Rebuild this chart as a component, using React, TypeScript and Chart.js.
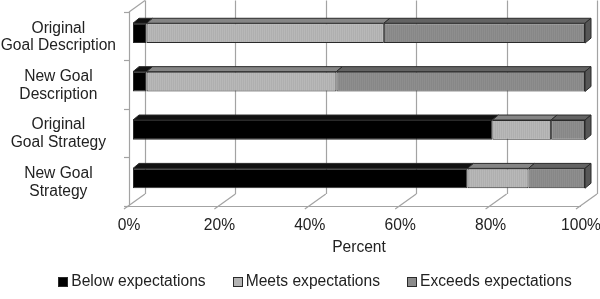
import React, { useEffect, useRef } from 'react';
import { Chart, registerables } from 'chart.js';

Chart.register(...registerables);

// ---------- data ----------
const categories: string[][] = [
  ['Original', 'Goal Description'],
  ['New Goal', 'Description'],
  ['Original', 'Goal Strategy'],
  ['New Goal', 'Strategy'],
];
const seriesNames = ['Below expectations', 'Meets expectations', 'Exceeds expectations'];
const belowValues = [3, 3, 79.5, 74];
const meetsValues = [52.5, 42, 13, 13.5];
const exceedsValues = [44.5, 55, 7.5, 12.5];
const xTickValues = [0, 20, 40, 60, 80, 100];

// ---------- style ----------
const FONT = "Arial, 'Liberation Sans', sans-serif";
const FONT_SIZE = 15.6;
const TEXT = '#222222';
const GRID = '#a3a3a3';
const OUTLINE = '#2a2a2a';
const frontSolid = ['#000000', '#b4b4b4', '#8b8b8b'];
const topColors = ['#111111', '#858585', '#636363'];
const sideColor = '#575757';
const BAR_DX = 6;
const BAR_DY = 5;
const FRONT_DX = -4;
const FRONT_DY = 3;
const WALL_DX = 16;
const WALL_DY = 11.5;

function makeStripes(c1: string, c2: string): CanvasPattern | string {
  const pc = document.createElement('canvas');
  pc.width = 2;
  pc.height = 1;
  const g = pc.getContext('2d');
  if (!g) return c1;
  g.fillStyle = c1;
  g.fillRect(0, 0, 1, 1);
  g.fillStyle = c2;
  g.fillRect(1, 0, 1, 1);
  const p = g.createPattern(pc, 'repeat');
  return p || c1;
}

const wallsPlugin = {
  id: 'walls3d',
  beforeDatasetsDraw(chart: any) {
    const { ctx, chartArea } = chart;
    const xs = chart.scales.x;
    const { top, bottom } = chartArea;
    const r = (v: number) => Math.round(v) + 0.5;
    const line = (x1: number, y1: number, x2: number, y2: number) => {
      ctx.beginPath();
      ctx.moveTo(x1, y1);
      ctx.lineTo(x2, y2);
      ctx.stroke();
    };
    ctx.save();
    ctx.strokeStyle = GRID;
    ctx.lineWidth = 1.2;
    const frontBottom = bottom + FRONT_DY;
    const frontTop = top + FRONT_DY;
    const backBottom = frontBottom - WALL_DY;
    const backTop = frontTop - WALL_DY;
    xTickValues.forEach((v) => {
      const p = xs.getPixelForValue(v);
      const fx = p + FRONT_DX;
      const bx = fx + WALL_DX;
      line(r(bx), backTop, r(bx), backBottom);
      const ext = 5;
      line(bx, backBottom, fx - ext, frontBottom + (ext * WALL_DY) / WALL_DX);
    });
    const x0 = xs.getPixelForValue(0) + FRONT_DX;
    const x100 = xs.getPixelForValue(100) + FRONT_DX;
    line(x0, r(frontBottom), x100, r(frontBottom));
    line(r(x0), frontTop, r(x0), frontBottom);
    line(x0, frontTop, x0 + WALL_DX, backTop);
    const step = (bottom - top) / categories.length;
    for (let i = 0; i <= categories.length; i++) {
      const y = r(top + i * step + FRONT_DY);
      line(x0 - 5, y, x0, y);
    }
    ctx.restore();
  },
  afterDatasetsDraw(chart: any) {
    const { ctx } = chart;
    ctx.save();
    ctx.strokeStyle = OUTLINE;
    ctx.lineWidth = 1;
    const n = chart.data.datasets.length;
    for (let d = 0; d < n; d++) {
      const meta = chart.getDatasetMeta(d);
      meta.data.forEach((el: any) => {
        const { x, y, base, height } = el.getProps(['x', 'y', 'base', 'height'], true);
        const t = y - height / 2;
        const b = y + height / 2;
        ctx.fillStyle = topColors[d];
        ctx.beginPath();
        ctx.moveTo(base, t);
        ctx.lineTo(x, t);
        ctx.lineTo(x + BAR_DX, t - BAR_DY);
        ctx.lineTo(base + BAR_DX, t - BAR_DY);
        ctx.closePath();
        ctx.fill();
        ctx.stroke();
        if (d === n - 1) {
          ctx.fillStyle = sideColor;
          ctx.beginPath();
          ctx.moveTo(x, t);
          ctx.lineTo(x + BAR_DX, t - BAR_DY);
          ctx.lineTo(x + BAR_DX, b - BAR_DY);
          ctx.lineTo(x, b);
          ctx.closePath();
          ctx.fill();
          ctx.stroke();
        }
      });
    }
    ctx.restore();
  },
};

const legendPlugin = {
  id: 'customLegend',
  afterDraw(chart: any) {
    const { ctx } = chart;
    ctx.save();
    ctx.font = `${FONT_SIZE}px ${FONT}`;
    ctx.textBaseline = 'middle';
    ctx.textAlign = 'left';
    const names = chart.data.datasets.map((ds: any) => ds.label as string);
    const box = 10;
    const gap = 3;
    const spacing = 27;
    const widths = names.map((s: string) => ctx.measureText(s).width);
    const total = widths.reduce((a: number, w: number) => a + box + gap + w, 0) + spacing * (names.length - 1);
    let x = 315 - total / 2;
    const cy = 282;
    names.forEach((s: string, i: number) => {
      ctx.fillStyle = frontSolid[i];
      ctx.fillRect(Math.round(x) + 0.5, Math.round(cy - box / 2) + 0.5, box - 1, box - 1);
      ctx.strokeStyle = OUTLINE;
      ctx.lineWidth = 1;
      ctx.strokeRect(Math.round(x) + 0.5, Math.round(cy - box / 2) + 0.5, box - 1, box - 1);
      ctx.fillStyle = TEXT;
      ctx.fillText(s, x + box + gap, cy);
      x += box + gap + widths[i] + spacing;
    });
    ctx.restore();
  },
};

export default function App() {
  const ref = useRef<HTMLCanvasElement | null>(null);
  useEffect(() => {
    document.body.style.margin = '0';
    const canvas = ref.current;
    if (!canvas) return;
    const meetsFill = makeStripes('#b8b8b8', '#afafaf');
    const exceedsFill = makeStripes('#8e8e8e', '#878787');
    const chart = new Chart(canvas, {
      type: 'bar',
      data: {
        labels: categories,
        datasets: [
          { label: seriesNames[0], data: belowValues, backgroundColor: frontSolid[0] },
          { label: seriesNames[1], data: meetsValues, backgroundColor: meetsFill as any },
          { label: seriesNames[2], data: exceedsValues, backgroundColor: exceedsFill as any },
        ].map((ds) => ({
          ...ds,
          borderColor: OUTLINE,
          borderWidth: 1,
          borderSkipped: false,
          categoryPercentage: 1,
          barPercentage: 0.41,
        })),
      },
      options: {
        indexAxis: 'y',
        responsive: false,
        maintainAspectRatio: false,
        animation: false,
        events: [],
        layout: { padding: { top: 9, right: 15, bottom: 42, left: 0 } },
        plugins: {
          legend: { display: false },
          tooltip: { enabled: false },
        },
        scales: {
          x: {
            stacked: true,
            min: 0,
            max: 100,
            afterBuildTicks: (scale: any) => {
              scale.ticks = xTickValues.map((v) => ({ value: v }));
            },
            afterFit: (scale: any) => {
              scale.height = 54.5;
              scale.paddingLeft = 0;
              scale.paddingRight = 0;
              scale.paddingTop = 0;
              scale.paddingBottom = 0;
            },
            grid: { display: false, drawTicks: false },
            border: { display: false },
            ticks: {
              color: TEXT,
              font: { family: FONT, size: FONT_SIZE },
              padding: 14,
              labelOffset: FRONT_DX,
              maxRotation: 0,
              autoSkip: false,
              callback: (v: any) => `${v}%`,
            },
            title: {
              display: true,
              text: 'Percent',
              color: TEXT,
              font: { family: FONT, size: FONT_SIZE },
              padding: { top: 0, bottom: 0 },
            },
          },
          y: {
            stacked: true,
            afterFit: (scale: any) => {
              scale.width = 133;
              scale.paddingLeft = 0;
              scale.paddingRight = 0;
              scale.paddingTop = 0;
              scale.paddingBottom = 0;
            },
            grid: { display: false, drawTicks: false },
            border: { display: false },
            ticks: {
              color: TEXT,
              font: { family: FONT, size: FONT_SIZE, lineHeight: 1.15 },
              crossAlign: 'center',
              padding: 17,
              labelOffset: 4,
              autoSkip: false,
            },
          },
        },
      },
      plugins: [wallsPlugin, legendPlugin],
    } as any);
    return () => chart.destroy();
  }, []);
  return (
    <div style={{ width: 600, height: 299, background: '#ffffff' }}>
      <canvas ref={ref} width={600} height={299} style={{ display: 'block' }} />
    </div>
  );
}
